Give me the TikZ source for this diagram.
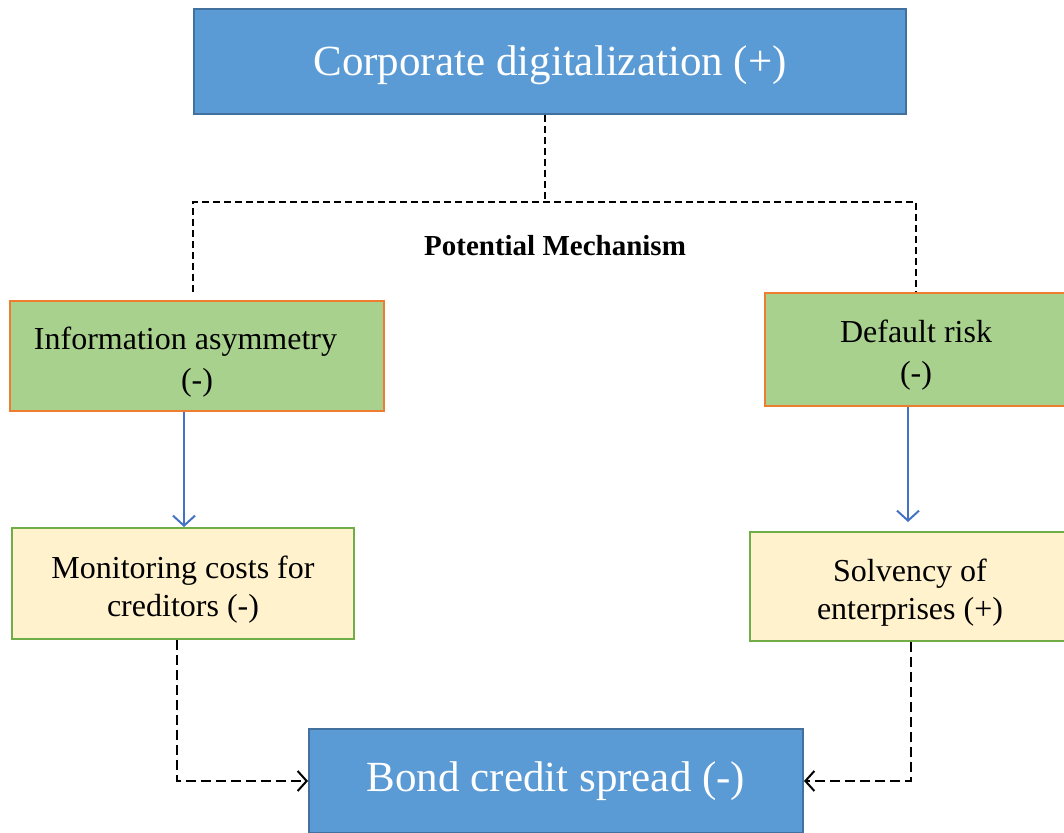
\documentclass[tikz,border=0pt]{standalone}
\usepackage{fontspec}
\setmainfont{Liberation Serif}
\usetikzlibrary{arrows.meta}
\definecolor{bluefill}{HTML}{5B9BD5}
\definecolor{blueedge}{HTML}{41719C}
\definecolor{greenfill}{HTML}{A9D18E}
\definecolor{orangeedge}{HTML}{ED7D31}
\definecolor{yellowfill}{HTML}{FFF2CC}
\definecolor{greenedge}{HTML}{70AD47}
\definecolor{arrowblue}{HTML}{4472C4}
\newcommand{\topstrut}{\rule{0pt}{34pt}}
\tikzset{
  mainbox/.style={draw=blueedge, fill=bluefill, line width=2pt, text=white, inner sep=0pt,
    font=\fontsize{43}{48}\selectfont},
  mechbox/.style={draw=orangeedge, fill=greenfill, line width=2.5pt, text=black, inner sep=0pt,
    align=center, font=\fontsize{32}{41}\selectfont},
  effbox/.style={draw=greenedge, fill=yellowfill, line width=2pt, text=black, inner sep=0pt,
    align=center, font=\fontsize{32}{38}\selectfont},
  topdash/.style={draw=black, line width=1.5pt, dash pattern=on 7pt off 4pt},
  botdash/.style={draw=black, line width=2pt, dash pattern=on 10pt off 5pt,
    -{Straight Barb[length=9pt,width=20pt,line width=2pt]}},
  bluearrow/.style={draw=arrowblue, line width=2pt,
    -{Straight Barb[length=10pt,width=22pt,line width=2pt]}},
}
\begin{document}
\begin{tikzpicture}[x=1pt,y=-1pt]
\useasboundingbox (0,0) rectangle (1064,832);
\node[mainbox, minimum width=712pt, minimum height=105pt] (top) at (550,61.5) {\raisebox{-4pt}[\height][\depth]{Corporate digitalization (+)}};
\node[mechbox, minimum width=374pt, minimum height=110pt] (info) at (197,356) {\topstrut Information asymmetry\hspace*{23pt}\\(-)};
\node[mechbox, minimum width=302pt, minimum height=113pt] (def) at (916,349.5) {\topstrut Default risk\\(-)};
\node[effbox, minimum width=342pt, minimum height=111pt] (mon) at (183,583.5) {\topstrut Monitoring costs for\\creditors (-)};
\node[effbox, minimum width=320pt, minimum height=109pt] (solv) at (910,586.5) {\topstrut Solvency of\\enterprises (+)};
\node[mainbox, minimum width=494pt, minimum height=104pt] (bond) at (556,781) {Bond credit spread (-)};
\node[font=\fontsize{29}{33}\selectfont\bfseries] (pm) at (555,246) {Potential Mechanism};
\coordinate (jm) at (545,202);
\coordinate (jl) at (193,292);
\coordinate (jr) at (916,292);
\draw[topdash] (top.south -| jm) -- (jm);
\draw[topdash] (jl) |- (jr |- jm) -- (jr);
\draw[bluearrow] (info.south -| 184,0) -- (mon.north -| 184,0);
\draw[bluearrow, shorten >=9pt] (def.south -| 908,0) -- (solv.north -| 908,0);
\draw[botdash] (mon.south -| 177,0) |- (bond.west);
\draw[botdash] (solv.south -| 911,0) |- (bond.east);
\end{tikzpicture}
\end{document}
